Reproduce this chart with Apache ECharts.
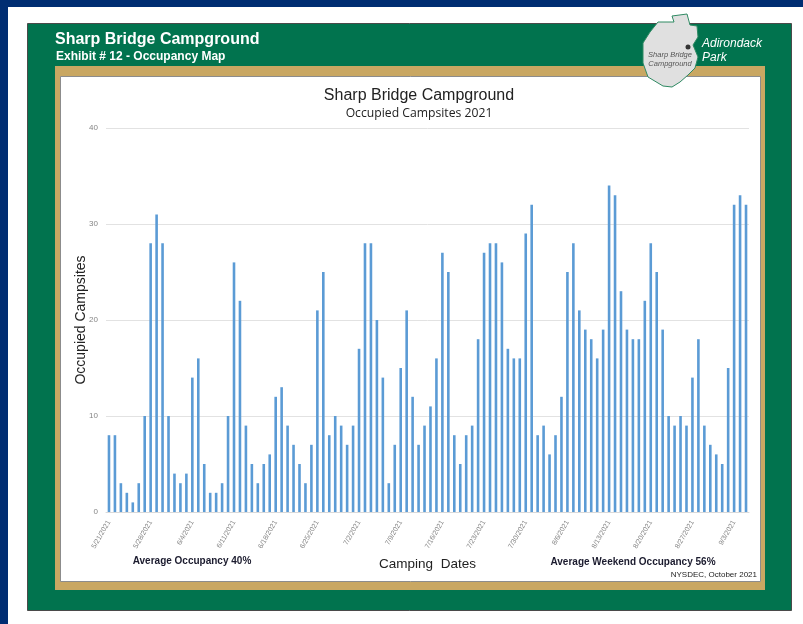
<!DOCTYPE html>
<html>
<head>
<meta charset="utf-8">
<title>Sharp Bridge Campground</title>
<script src="https://cdn.jsdelivr.net/npm/echarts@6/dist/echarts.min.js"></script>
<style>
  html, body { margin: 0; padding: 0; background: #fff; }
  #chart { width: 803px; height: 624px; }
</style>
</head>
<body>
<div id="chart"></div>
<script>
// one entry per camping night, 5/21 to 9/5
const dates = [
  '5/21/2021','5/22/2021','5/23/2021','5/24/2021','5/25/2021','5/26/2021','5/27/2021','5/28/2021','5/29/2021','5/30/2021','5/31/2021',
  '6/1/2021','6/2/2021','6/3/2021','6/4/2021','6/5/2021','6/6/2021','6/7/2021','6/8/2021','6/9/2021','6/10/2021',
  '6/11/2021','6/12/2021','6/13/2021','6/14/2021','6/15/2021','6/16/2021','6/17/2021','6/18/2021','6/19/2021','6/20/2021',
  '6/21/2021','6/22/2021','6/23/2021','6/24/2021','6/25/2021','6/26/2021','6/27/2021','6/28/2021','6/29/2021','6/30/2021',
  '7/1/2021','7/2/2021','7/3/2021','7/4/2021','7/5/2021','7/6/2021','7/7/2021','7/8/2021','7/9/2021','7/10/2021',
  '7/11/2021','7/12/2021','7/13/2021','7/14/2021','7/15/2021','7/16/2021','7/17/2021','7/18/2021','7/19/2021','7/20/2021',
  '7/21/2021','7/22/2021','7/23/2021','7/24/2021','7/25/2021','7/26/2021','7/27/2021','7/28/2021','7/29/2021','7/30/2021','7/31/2021',
  '8/1/2021','8/2/2021','8/3/2021','8/4/2021','8/5/2021','8/6/2021','8/7/2021','8/8/2021','8/9/2021','8/10/2021',
  '8/11/2021','8/12/2021','8/13/2021','8/14/2021','8/15/2021','8/16/2021','8/17/2021','8/18/2021','8/19/2021','8/20/2021',
  '8/21/2021','8/22/2021','8/23/2021','8/24/2021','8/25/2021','8/26/2021','8/27/2021','8/28/2021','8/29/2021','8/30/2021','8/31/2021',
  '9/1/2021','9/2/2021','9/3/2021','9/4/2021','9/5/2021'
];
const occupied = [
  8,8,3,2,1,3,10,28,31,28,
  10,4,3,4,14,16,5,2,2,3,
  10,26,22,9,5,3,5,6,12,13,
  9,7,5,3,7,21,25,8,10,9,
  7,9,17,28,28,20,14,3,7,15,
  21,12,7,9,11,16,27,25,8,5,
  8,9,18,27,28,28,26,17,16,16,
  29,32,8,9,6,8,12,25,28,21,
  19,18,16,19,34,33,23,19,18,18,
  22,28,25,19,10,9,10,9,14,18,
  9,7,6,5,15,32,33,32
];

const FONT = '"Liberation Sans", Arial, sans-serif';

function box(x, y, width, height, fill, stroke) {
  return {
    type: 'rect',
    silent: true,
    z: -10,
    shape: { x: x, y: y, width: width, height: height },
    style: { fill: fill, stroke: stroke || null, lineWidth: stroke ? 1 : 0 }
  };
}

function label(text, x, y, size, color, opts) {
  opts = opts || {};
  return {
    type: 'text',
    silent: true,
    z: 20,
    x: x,
    y: y,
    style: {
      text: text,
      fill: color,
      font: (opts.style || 'normal') + ' ' + (opts.weight || 'normal') + ' ' + size + 'px ' + (opts.family || FONT),
      align: opts.align || 'left',
      verticalAlign: 'middle'
    }
  };
}

// page frame, the map outline and the captions around the plot
const frame = [
  box(0, 0, 803, 7, '#002d72'),
  box(0, 0, 8, 624, '#002d72'),
  box(27.5, 23.5, 764, 587, '#01734e', '#4a4a4a'),
  box(55, 66, 710, 524, '#c9a762'),
  box(60.5, 76.5, 700, 505, '#ffffff', '#8c8c8c'),
  {
    type: 'polygon',
    silent: true,
    z: 15,
    shape: {
      points: [[672,16],[687,14],[690,25],[697,26],[698,37],[693,45],[698,57],[695,68],[688,75],
               [680,82],[672,87],[663,86],[648,77],[643,63],[643,43],[650,32],[658,22],[674,22]]
    },
    style: { fill: '#e0e0e0', stroke: '#2f8a63', lineWidth: 1 }
  },
  { type: 'circle', silent: true, z: 16, shape: { cx: 688, cy: 47, r: 2.5 }, style: { fill: '#333' } },
  label('Sharp Bridge Campground', 55, 40, 16, '#ffffff', { weight: 'bold' }),
  label('Exhibit # 12 - Occupancy Map', 56, 57, 12, '#ffffff', { weight: 'bold' }),
  label('Adirondack', 702, 44, 12, '#ffffff', { style: 'italic' }),
  label('Park', 702, 58, 12, '#ffffff', { style: 'italic' }),
  label('Sharp Bridge', 670, 55, 7.5, '#555555', { style: 'italic', align: 'center' }),
  label('Campground', 670, 64, 7.5, '#555555', { style: 'italic', align: 'center' }),
  label('Sharp Bridge Campground', 419, 96, 16, '#222222', { align: 'center' }),
  label('Occupied Campsites 2021', 419, 114, 12.2, '#222222', { align: 'center', family: '"Open Sans", sans-serif' }),
  label('Average Occupancy 40%', 192, 561, 10, '#1b1b2e', { weight: 'bold', align: 'center' }),
  label('Average Weekend Occupancy 56%', 633, 562, 10, '#1b1b2e', { weight: 'bold', align: 'center' }),
  label('NYSDEC, October 2021', 757, 575, 8, '#222222', { align: 'right' })
];

const myChart = echarts.init(document.getElementById('chart'), null, { renderer: 'canvas' });

const option = {
  animation: false,
  textStyle: { fontFamily: FONT },
  grid: { left: 106, top: 128, width: 643, height: 384 },
  graphic: frame,
  xAxis: {
    type: 'category',
    data: dates,
    name: 'Camping  Dates',
    nameLocation: 'middle',
    nameGap: 45,
    nameMoveOverlap: false,
    nameTextStyle: { fontSize: 13.5, color: '#222', fontFamily: FONT },
    axisLine: { lineStyle: { color: '#d9d9d9', width: 1 } },
    axisTick: { show: false },
    axisLabel: { interval: 6, rotate: 60, fontSize: 7, color: '#858585', margin: 9, fontFamily: FONT }
  },
  yAxis: {
    type: 'value',
    min: 0,
    max: 40,
    interval: 10,
    name: 'Occupied Campsites',
    nameLocation: 'middle',
    nameGap: 18,
    nameMoveOverlap: false,
    nameTextStyle: { fontSize: 14, color: '#222', fontFamily: FONT },
    axisLine: { show: false },
    axisTick: { show: false },
    axisLabel: { fontSize: 8, color: '#858585', margin: 8, fontFamily: FONT },
    splitLine: { lineStyle: { color: '#e2e2e2', width: 1 } }
  },
  series: [{
    type: 'bar',
    data: occupied,
    barWidth: 2.6,
    itemStyle: { color: '#5b9bd5' }
  }]
};
myChart.setOption(option);
</script>
</body>
</html>
